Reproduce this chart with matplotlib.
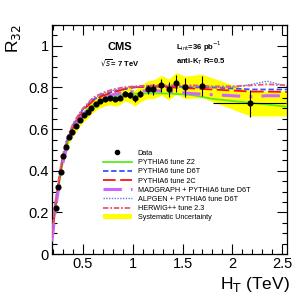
import numpy as np
import matplotlib
matplotlib.use('Agg')
import matplotlib.pyplot as plt
from matplotlib.ticker import MultipleLocator, FormatStrFormatter

plt.rcParams['font.family'] = ['Liberation Sans', 'DejaVu Sans']

# data points (HT in TeV, R32)
data_x = [0.227, 0.25, 0.277, 0.303, 0.333, 0.363, 0.393, 0.43, 0.47, 0.515, 0.55, 0.585,
          0.627, 0.673, 0.72, 0.77, 0.82, 0.87, 0.92, 0.97, 1.02, 1.075, 1.15, 1.203,
          1.287, 1.362, 1.437, 1.523, 1.695, 2.18]
data_y = [0.219, 0.323, 0.395, 0.471, 0.515, 0.56, 0.587, 0.614, 0.643, 0.667, 0.683, 0.703,
          0.721, 0.734, 0.743, 0.748, 0.743, 0.751, 0.77, 0.763, 0.748, 0.77, 0.79, 0.79,
          0.81, 0.79, 0.82, 0.80, 0.807, 0.723]
data_err = [0.003, 0.003, 0.003, 0.003, 0.003, 0.003, 0.003, 0.004, 0.004, 0.005, 0.005, 0.006,
            0.006, 0.007, 0.008, 0.009, 0.01, 0.011, 0.012, 0.014, 0.016, 0.018, 0.022, 0.025,
            0.03, 0.035, 0.04, 0.045, 0.05, 0.065]
last_xerr_lo = [0.37]
last_xerr_hi = [0.36]
sys_err = [0.025, 0.025, 0.025, 0.025, 0.025, 0.025, 0.026, 0.027, 0.028, 0.028, 0.029, 0.03,
           0.03, 0.031, 0.032, 0.032, 0.033, 0.034, 0.035, 0.036, 0.038, 0.04, 0.042, 0.045,
           0.048, 0.05, 0.052, 0.054, 0.056, 0.06]

# MC predictions
mc_x = [0.187, 0.2, 0.22, 0.25, 0.28, 0.3, 0.33, 0.36, 0.4, 0.45, 0.5, 0.6, 0.7, 0.8,
        0.9, 1.0, 1.2, 1.4, 1.6, 1.8, 2.0, 2.2, 2.35, 2.55]
z2 = [0.07, 0.12, 0.21, 0.31, 0.40, 0.45, 0.51, 0.55, 0.60, 0.64, 0.675, 0.715, 0.74, 0.755,
      0.765, 0.77, 0.772, 0.77, 0.763, 0.745, 0.735, 0.725, 0.718, 0.707]
d6t = [0.08, 0.13, 0.23, 0.33, 0.42, 0.47, 0.53, 0.57, 0.62, 0.66, 0.695, 0.74, 0.765, 0.78,
       0.79, 0.80, 0.805, 0.805, 0.80, 0.80, 0.795, 0.79, 0.79, 0.79]
tune2c = [0.07, 0.12, 0.22, 0.32, 0.41, 0.46, 0.52, 0.565, 0.61, 0.65, 0.69, 0.735, 0.76, 0.775,
          0.79, 0.80, 0.805, 0.80, 0.795, 0.79, 0.785, 0.78, 0.78, 0.778]
madgraph = [0.06, 0.11, 0.20, 0.30, 0.39, 0.44, 0.50, 0.545, 0.59, 0.635, 0.67, 0.715, 0.745, 0.765,
            0.775, 0.78, 0.785, 0.78, 0.77, 0.765, 0.76, 0.755, 0.76, 0.76]
alpgen = [0.08, 0.13, 0.23, 0.33, 0.42, 0.47, 0.53, 0.575, 0.62, 0.66, 0.695, 0.745, 0.77, 0.785,
          0.795, 0.80, 0.805, 0.81, 0.805, 0.80, 0.80, 0.815, 0.83, 0.805]
herwig = [0.09, 0.14, 0.24, 0.34, 0.43, 0.48, 0.54, 0.58, 0.625, 0.665, 0.70, 0.75, 0.775, 0.79,
          0.80, 0.805, 0.81, 0.81, 0.81, 0.805, 0.805, 0.81, 0.815, 0.81]

fig = plt.figure(figsize=(3, 3), dpi=100)
ax = fig.add_axes([0.172, 0.153, 0.785, 0.764])

# systematic band, extended to the right edge with the last bin
bx = data_x + [2.55]
by = np.array(data_y + [data_y[-1]])
be = np.array(sys_err + [sys_err[-1]])
band = ax.fill_between(bx, by - be, by + be, color='#ffff00', lw=0, zorder=1)

l_z2, = ax.plot(mc_x, z2, color='#55ee22', lw=1.3, zorder=3)
l_d6t, = ax.plot(mc_x, d6t, color='#3355ff', lw=1.3, ls=(0, (3, 1.5)), zorder=3)
l_2c, = ax.plot(mc_x, tune2c, color='#ff1111', lw=1.3, ls=(0, (7, 2.5)), zorder=3)
l_mg, = ax.plot(mc_x, madgraph, color='#cc66ff', lw=2.2, ls=(0, (6, 3, 1, 3)), zorder=3)
l_alp, = ax.plot(mc_x, alpgen, color='#6677ee', lw=1.0, ls=(0, (1, 1)), zorder=3)
l_hw, = ax.plot(mc_x, herwig, color='#ee5577', lw=1.3, ls=(0, (3, 1, 1, 1)), zorder=3)

ax.errorbar(data_x[:-1], data_y[:-1], yerr=data_err[:-1], fmt='o', color='black',
            ms=3.4, lw=0.8, capsize=0, zorder=5)
ax.errorbar(data_x[-1:], data_y[-1:], yerr=data_err[-1:], xerr=[last_xerr_lo, last_xerr_hi],
            fmt='o', color='black', ms=3.4, lw=0.8, capsize=0, zorder=5)
l_data, = ax.plot([], [], 'o', color='black', ms=3.0)

ax.set_xlim(0.185, 2.55)
ax.set_ylim(0, 1.1)
ax.xaxis.set_major_locator(MultipleLocator(0.5))
ax.xaxis.set_minor_locator(MultipleLocator(0.1))
ax.yaxis.set_major_locator(MultipleLocator(0.2))
ax.yaxis.set_minor_locator(MultipleLocator(0.05))
ax.xaxis.set_major_formatter(FormatStrFormatter('%g'))
ax.yaxis.set_major_formatter(FormatStrFormatter('%g'))
ax.set_yticks([0, 0.2, 0.4, 0.6, 0.8, 1.0])
ax.tick_params(which='both', direction='in', top=True, right=True, labelsize=10.5, width=0.8)
ax.tick_params(which='major', length=7, pad=2)
ax.tick_params(which='minor', length=3.5)
for sp in ax.spines.values():
    sp.set_linewidth(0.9)

fig.text(0.045, 0.92, 'R$_{32}$', rotation=90, ha='center', va='top', fontsize=12.5)
fig.text(0.965, 0.02, 'H$_{\\mathrm{T}}$ (TeV)', ha='right', va='bottom', fontsize=12.5)

ax.text(0.29, 0.905, 'CMS', transform=ax.transAxes, ha='center', va='center',
        fontsize=8, fontweight='bold')
ax.text(0.29, 0.835, '$\\sqrt{s}$= 7 TeV', transform=ax.transAxes, ha='center', va='center',
        fontsize=5.5, fontweight='bold')
ax.text(0.53, 0.905, 'L$_{\\mathrm{int}}$=36 pb$^{-1}$', transform=ax.transAxes, ha='left',
        va='center', fontsize=5.5, fontweight='bold')
ax.text(0.53, 0.84, 'anti-K$_{\\mathrm{T}}$ R=0.5', transform=ax.transAxes, ha='left',
        va='center', fontsize=5.5, fontweight='bold')

handles = [l_data, l_z2, l_d6t, l_2c, l_mg, l_alp, l_hw, band]
labels = ['Data', 'PYTHIA6 tune Z2', 'PYTHIA6 tune D6T', 'PYTHIA6 tune 2C',
          'MADGRAPH + PYTHIA6 tune D6T', 'ALPGEN + PYTHIA6 tune D6T', 'HERWIG++ tune 2.3',
          'Systematic Uncertainty']
ax.legend(handles, labels, loc='upper left', bbox_to_anchor=(0.218, 0.455), frameon=False,
          fontsize=5.2, handlelength=4.0, handletextpad=0.8, labelspacing=0.3,
          borderpad=0, borderaxespad=0)

fig.savefig('out.png', dpi=100)
